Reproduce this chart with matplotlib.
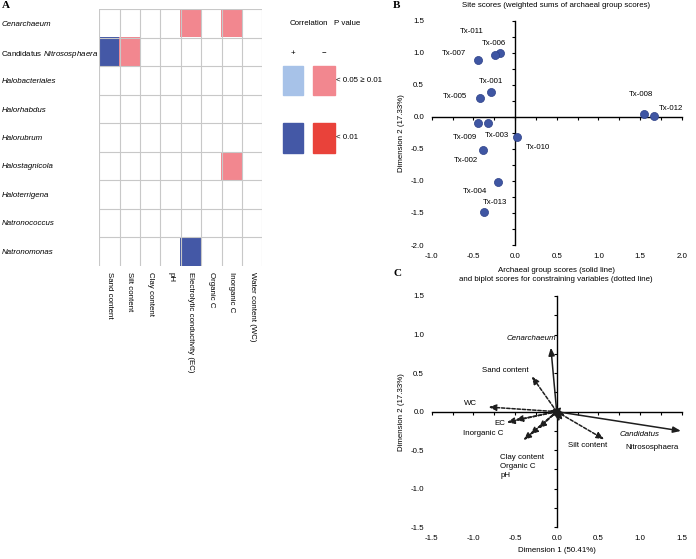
import numpy as np
import matplotlib

matplotlib.use("Agg")
import matplotlib.pyplot as plt
from matplotlib.colors import ListedColormap
from matplotlib.patches import Rectangle

plt.rcParams["font.family"] = ["Liberation Sans", "DejaVu Sans"]
plt.rcParams["font.size"] = 5.7
plt.rcParams["axes.unicode_minus"] = False
plt.rcParams["mathtext.fontset"] = "custom"
plt.rcParams["mathtext.rm"] = "Liberation Sans"
plt.rcParams["mathtext.it"] = "Liberation Sans:italic"

# ---- panel A: significant correlations (0 none, 1 +/p<0.05, 2 -/p<0.05, 3 +/p<0.01, 4 -/p<0.01)
groups = ["Cenarchaeum", "Candidatus$\\ \\mathit{Nitrososphaera}$", "Halobacteriales", "Halorhabdus",
          "Halorubrum", "Halostagnicola", "Haloterrigena", "Natronococcus", "Natronomonas"]
variables = ["Sand content", "Silt content", "Clay content", "pH", "Electrolytic conductivity (EC)",
             "Organic C", "Inorganic C", "Water content (WC)"]
corr_codes = [
    [0, 0, 0, 0, 2, 0, 2, 0],
    [3, 2, 0, 0, 0, 0, 0, 0],
    [0, 0, 0, 0, 0, 0, 0, 0],
    [0, 0, 0, 0, 0, 0, 0, 0],
    [0, 0, 0, 0, 0, 0, 0, 0],
    [0, 0, 0, 0, 0, 0, 2, 0],
    [0, 0, 0, 0, 0, 0, 0, 0],
    [0, 0, 0, 0, 0, 0, 0, 0],
    [0, 0, 0, 0, 3, 0, 0, 0],
]
code_colors = ["white", "#a7c2e8", "#f2878f", "#4458a6", "#e9423a"]

# ---- panel B: site scores
sites = ["Tx-001", "Tx-002", "Tx-003", "Tx-004", "Tx-005", "Tx-006", "Tx-007",
         "Tx-008", "Tx-009", "Tx-010", "Tx-011", "Tx-012", "Tx-013"]
site_x = [-0.29, -0.39, -0.32, -0.20, -0.42, -0.18, -0.45, 1.55, -0.45, 0.02, -0.24, 1.67, -0.37]
site_y = [0.38, -0.51, -0.09, -1.01, 0.29, 1.00, 0.88, 0.04, -0.09, -0.31, 0.96, 0.02, -1.49]
# label offsets in points
site_offsets = [(0, 8), (-12, -8), (6, -9), (-17, -7), (-18, 1), (-4, 7), (-17, 5),
                (-2, 14), (-9, -11), (15, -8), (-17, 17), (12, 5), (8, 7)]

# ---- panel C: group scores (solid) and biplot scores (dotted)
group_x = [-0.07, 1.49, 0.07, -0.07, 0.06, -0.05, 0.10, 0.03, -0.09]
group_y = [0.83, -0.25, -0.11, -0.07, 0.06, 0.05, -0.05, -0.13, 0.01]
env_names = ["Sand content", "Silt content", "Clay content", "pH", "EC", "Organic C", "Inorganic C", "WC"]
env_x = [-0.30, 0.57, -0.22, -0.40, -0.60, -0.32, -0.50, -0.82]
env_y = [0.46, -0.36, -0.22, -0.37, -0.14, -0.30, -0.11, 0.06]

W, H = 696, 559
fig = plt.figure(figsize=(W / 100, H / 100), dpi=100)


def px_box(x0, y0, x1, y1):
    return [x0 / W, 1 - y1 / H, (x1 - x0) / W, (y1 - y0) / H]


# ================= A =================
axA = fig.add_axes(px_box(99.3, 9.3, 262.3, 265.7))
codes = np.array(corr_codes)
nr, nc = codes.shape
axA.imshow(codes, cmap=ListedColormap(code_colors), vmin=-0.5, vmax=4.5, aspect="auto",
           interpolation="nearest")
for y in np.arange(nr) - 0.5:
    axA.axhline(y, color="#c8c8c8", lw=0.8)
for x in np.arange(nc + 1) - 0.5:
    axA.axvline(x, color="#c8c8c8", lw=0.8)
for s in axA.spines.values():
    s.set_visible(False)
axA.set_xlim(-0.5, nc - 0.5)
axA.set_ylim(nr - 0.5, -0.5)
axA.set_xticks(range(nc))
axA.set_xticklabels(variables, rotation=-90, va="top", ha="center")
axA.set_yticks(range(nr))
axA.set_yticklabels(groups, ha="left")
for i, lab in enumerate(axA.get_yticklabels()):
    if i != 1:
        lab.set_fontstyle("italic")
axA.tick_params(axis="x", length=0, pad=4.3)
axA.tick_params(axis="y", length=0, pad=70.5)
fig.text(2 / W, 1 - 5 / H, "A", family="Liberation Serif", weight="bold", fontsize=8, va="center")

# legend
axL = fig.add_axes(px_box(270, 0, 400, 170))
axL.set_xlim(270, 400)
axL.set_ylim(170, 0)
axL.axis("off")
axL.text(308.5, 23.3, "Correlation", ha="center", va="center")
axL.text(347, 23.3, "P value", ha="center", va="center")
axL.text(292.7, 53, "+", ha="center", va="center")
axL.text(324, 53, "\u2212", ha="center", va="center")
for (y0, y1), (cpos, cneg), lab in [((65.7, 95), (code_colors[1], code_colors[2]), "< 0.05 \u2265 0.01"),
                                      ((122.7, 152.7), (code_colors[3], code_colors[4]), "< 0.01")]:
    axL.add_patch(Rectangle((282.7, y0), 20, y1 - y0, color=cpos))
    axL.add_patch(Rectangle((312.7, y0), 22.3, y1 - y0, color=cneg))
    axL.text(336, (y0 + y1) / 2, lab, ha="left", va="center")


def cross_axes(ax, lim, step_minor, step_major):
    xlim, ylim = lim
    ax.set_xlim(*xlim)
    ax.set_ylim(*ylim)
    for s in ["top", "right"]:
        ax.spines[s].set_visible(False)
    ax.spines["left"].set_position(("data", 0))
    ax.spines["bottom"].set_position(("data", 0))
    ax.set_xticks(np.arange(xlim[0], xlim[1] + 1e-9, step_minor))
    ax.set_yticks(np.arange(ylim[0], ylim[1] + 1e-9, step_minor))
    ax.tick_params(direction="out", length=2, width=0.8, labelbottom=False, labelleft=False)
    for s in ["left", "bottom"]:
        ax.spines[s].set_linewidth(1.0)
    sx = ax.secondary_xaxis("bottom")
    sx.set_xticks(np.arange(xlim[0], xlim[1] + 1e-9, step_major))
    sx.xaxis.set_major_formatter("{x:.1f}")
    sx.spines["bottom"].set_visible(False)
    sx.tick_params(length=0, pad=5.5)
    sy = ax.secondary_yaxis("left")
    sy.set_yticks(np.arange(ylim[0], ylim[1] + 1e-9, step_major))
    sy.yaxis.set_major_formatter("{x:.1f}")
    sy.spines["left"].set_visible(False)
    sy.tick_params(length=0, pad=5.5)
    return sx, sy


# ================= B =================
axB = fig.add_axes(px_box(431.7, 20.7, 681.7, 245))
sxB, syB = cross_axes(axB, ((-1.0, 2.0), (-2.0, 1.5)), 0.25, 0.5)
syB.set_ylabel("Dimension 2 (17.33%)", labelpad=4)
axB.plot(site_x, site_y, "o", ms=5.8, color="#3f56a3", mec="#2b3f86", mew=0.5, zorder=3)
for name, x, y, off in zip(sites, site_x, site_y, site_offsets):
    axB.annotate(name, (x, y), xytext=off, textcoords="offset points", ha="center", va="center")
fig.text(556 / W, 1 - 5.5 / H, "Site scores (weighted sums of archaeal group scores)",
         ha="center", va="center")
fig.text(393 / W, 1 - 6 / H, "B", family="Liberation Serif", weight="bold", fontsize=8, va="center")

# ================= C =================
axC = fig.add_axes(px_box(431.7, 296, 681.7, 527.3))
sxC, syC = cross_axes(axC, ((-1.5, 1.5), (-1.5, 1.5)), 0.25, 0.5)
syC.set_ylabel("Dimension 2 (17.33%)", labelpad=4)
sxC.set_xlabel("Dimension 1 (50.41%)", labelpad=4)
head = "-|>,head_length=0.8,head_width=0.32"
for x, y in zip(group_x, group_y):
    axC.annotate("", xy=(x, y), xytext=(0, 0),
                 arrowprops=dict(arrowstyle=head, lw=1.1, color="#1e1e1e", shrinkA=0, shrinkB=0))
for x, y in zip(env_x, env_y):
    axC.annotate("", xy=(x, y), xytext=(0, 0),
                 arrowprops=dict(arrowstyle=head, lw=1.1, linestyle=(0, (2.2, 1.2)),
                                 color="#1e1e1e", shrinkA=0, shrinkB=0))
axC.text(-0.01, 0.95, "Cenarchaeum", style="italic", ha="right", va="center")
axC.text(-0.62, 0.54, "Sand content", ha="center", va="center")
axC.text(-1.04, 0.11, "WC", ha="center", va="center")
axC.text(-0.68, -0.15, "EC", ha="center", va="center")
axC.text(-0.88, -0.28, "Inorganic C", ha="center", va="center")
axC.text(-0.68, -0.71, "Clay content\nOrganic C\npH", ha="left", va="center", linespacing=1.45)
axC.text(0.37, -0.435, "Silt content", ha="center", va="center")
axC.text(1.0, -0.30, "Candidatus", style="italic", ha="center", va="center")
axC.text(1.14, -0.46, "Nitrososphaera", ha="center", va="center")
fig.text(556 / W, 1 - 270.7 / H, "Archaeal group scores (solid line)", ha="center", va="center")
fig.text(556 / W, 1 - 279.5 / H, "and biplot scores for constraining variables (dotted line)",
         ha="center", va="center")
fig.text(393 / W, 1 - 274 / H, "C", family="Liberation Serif", weight="bold", fontsize=8, va="center")

fig.savefig("out.png", dpi=100)
